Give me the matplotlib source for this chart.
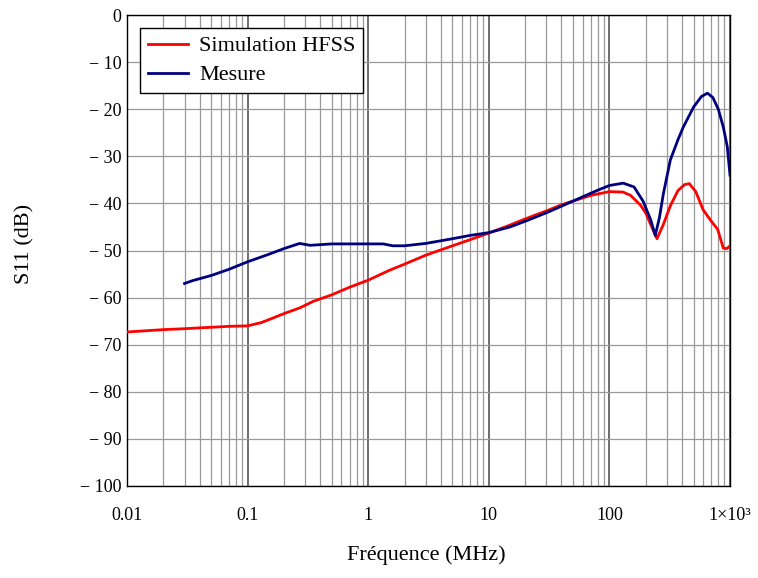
import matplotlib
matplotlib.use("Agg")
import matplotlib.pyplot as plt
from matplotlib.ticker import FixedLocator, LogLocator, NullFormatter

plt.rcParams['font.family'] = ['Liberation Serif', 'DejaVu Serif']

# Simulation HFSS (freq MHz, S11 dB)
sim_freq = [0.01, 0.02, 0.03, 0.05, 0.07, 0.1, 0.13, 0.16, 0.2, 0.27, 0.35, 0.5, 0.7,
            1.0, 1.5, 2.0, 3.0, 5.0, 7.0, 10, 15, 20, 30, 40, 50, 70, 100, 130, 150,
            180, 200, 220, 248, 280, 320, 370, 420, 460, 520, 600, 700, 790, 880, 940, 1000]
sim_s11 = [-67.3, -66.8, -66.6, -66.3, -66.1, -66.0, -65.3, -64.4, -63.4, -62.2, -60.8,
           -59.4, -57.8, -56.3, -54.2, -52.9, -51.0, -49.0, -47.7, -46.3, -44.6, -43.3,
           -41.6, -40.3, -39.5, -38.3, -37.5, -37.6, -38.3, -40.3, -42.0, -44.5, -47.5,
           -44.5, -40.5, -37.3, -36.0, -35.8, -37.5, -41.4, -43.8, -45.5, -49.5, -49.6, -49.0]

# Mesure
mes_freq = [0.03, 0.035, 0.05, 0.07, 0.1, 0.15, 0.2, 0.27, 0.33, 0.5, 0.8, 1.33, 1.6,
            2.0, 3.0, 5.0, 7.0, 10, 15, 20, 30, 40, 60, 80, 100, 130, 160, 190, 220,
            240, 260, 280, 320, 370, 410, 500, 580, 650, 720, 800, 880, 950, 1000]
mes_s11 = [-57.0, -56.4, -55.3, -54.0, -52.4, -50.8, -49.6, -48.5, -48.9, -48.6, -48.6,
           -48.6, -49.0, -49.0, -48.5, -47.5, -46.8, -46.2, -45.0, -43.8, -42.0, -40.6,
           -38.6, -37.2, -36.2, -35.7, -36.5, -39.5, -43.5, -46.8, -43.0, -38.0, -30.8,
           -26.5, -23.8, -19.5, -17.3, -16.6, -17.5, -20.0, -23.8, -28.0, -34.0]

x_ticks = [0.01, 0.1, 1, 10, 100, 1000]
x_labels = ["0.01", "0.1", "1", "10", "100", "1×10³"]
y_ticks = list(range(-100, 1, 10))
y_labels = ["0" if v == 0 else "− " + str(-v) for v in y_ticks]

fig = plt.figure(figsize=(7.58, 5.78), dpi=100)
ax = fig.add_axes([127/758, 1-486/578, (730-127)/758, (486-15)/578])

ax.plot(sim_freq, sim_s11, color='#ff0000', lw=2.0, label='Simulation HFSS', zorder=3)
ax.plot(mes_freq, mes_s11, color='#00007f', lw=2.0, label='Mesure', zorder=3)

ax.set_xscale('log')
ax.set_xlim(0.01, 1000)
ax.set_ylim(-100, 0)
ax.xaxis.set_major_locator(FixedLocator(x_ticks))
ax.set_xticklabels(x_labels)
ax.xaxis.set_minor_locator(LogLocator(base=10, subs=range(2, 10)))
ax.xaxis.set_minor_formatter(NullFormatter())
ax.set_yticks(y_ticks)
ax.set_yticklabels(y_labels)
ax.grid(True, which='major', axis='x', color='#555555', lw=1.2)
ax.grid(True, which='minor', axis='x', color='#999999', lw=0.9)
ax.grid(True, which='major', axis='y', color='#999999', lw=0.9)
ax.tick_params(which='both', length=0, labelsize=13)
ax.tick_params(axis='x', pad=15)
ax.tick_params(axis='y', pad=4)
for s in ax.spines.values():
    s.set_color('black')
    s.set_linewidth(1.0)

ax.set_xlabel('Fréquence (MHz)', fontsize=16)
ax.set_ylabel('S11 (dB)', fontsize=16)
ax.xaxis.set_label_coords((426-127)/603, (486-555)/471)
ax.xaxis.label.set_va('center')
ax.yaxis.set_label_coords((25-127)/603, (486-244)/471)
ax.yaxis.label.set_va('center')

leg = ax.legend(loc='upper left', bbox_to_anchor=(13/603, 1-13/471), fontsize=16,
                frameon=True, fancybox=False, edgecolor='black', framealpha=1,
                borderpad=0.35, labelspacing=0.38, handlelength=1.8, handletextpad=0.5,
                borderaxespad=0)
leg.get_frame().set_linewidth(1.0)

fig.savefig('out.png', dpi=100)
